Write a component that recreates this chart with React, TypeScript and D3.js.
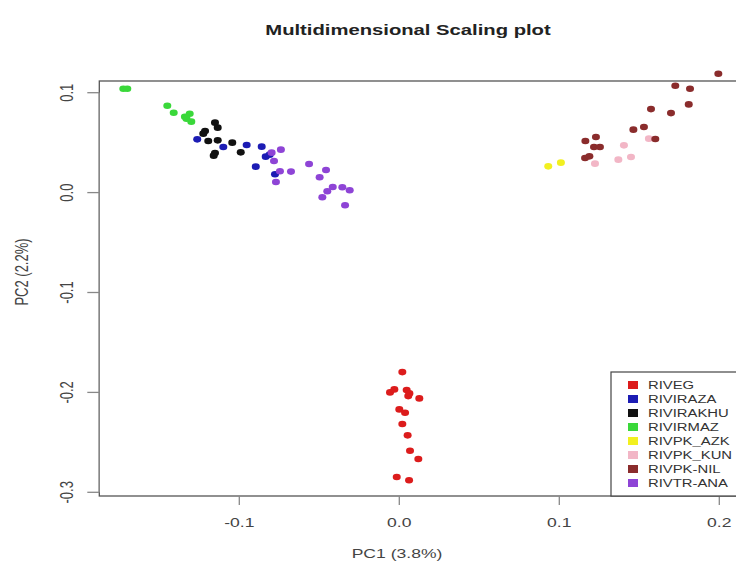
import React from "react";
import * as d3 from "d3";

const groups = ["RIVEG", "RIVIRAZA", "RIVIRAKHU", "RIVIRMAZ", "RIVPK_AZK", "RIVPK_KUN", "RIVPK-NIL", "RIVTR-ANA"];
const groupColors = ["#dc1c1c", "#1c1cb4", "#111111", "#3ad83a", "#f2f020", "#f2b6c6", "#8a2c2c", "#8e44d6"];

const xTicks = [-0.1, 0.0, 0.1, 0.2];
const yTicks = [0.1, 0.0, -0.1, -0.2, -0.3];
const xTickLabels = ["-0.1", "0.0", "0.1", "0.2"];
const yTickLabels = ["0.1", "0.0", "-0.1", "-0.2", "-0.3"];

// [PC1, PC2]
const rivEG: [number, number][] = [
  [0.0019, -0.1797], [-0.0058, -0.2], [-0.0031, -0.197], [0.0046, -0.1977], [0.0063, -0.201],
  [0.0056, -0.2037], [0.0125, -0.206], [0.0, -0.217], [0.0036, -0.2204], [0.0019, -0.2317],
  [0.0052, -0.243], [0.0067, -0.2584], [0.0119, -0.2667], [-0.0016, -0.2847], [0.0061, -0.288],
];
const rivIRAZA: [number, number][] = [
  [-0.1263, 0.0533], [-0.11, 0.0456], [-0.0954, 0.0476], [-0.086, 0.046], [-0.0835, 0.036],
  [-0.0897, 0.026], [-0.0777, 0.0183], [-0.081, 0.038],
];
const rivIRAKHU: [number, number][] = [
  [-0.1152, 0.07], [-0.1135, 0.065], [-0.1214, 0.0616], [-0.1225, 0.059], [-0.1194, 0.0516],
  [-0.1135, 0.0523], [-0.1044, 0.05], [-0.1152, 0.0396], [-0.116, 0.037], [-0.0991, 0.0403],
];
const rivIRMAZ: [number, number][] = [
  [-0.1725, 0.104], [-0.17, 0.104], [-0.145, 0.087], [-0.141, 0.08], [-0.134, 0.076],
  [-0.131, 0.079], [-0.13, 0.071], [-0.133, 0.074],
];
const rivPKAZK: [number, number][] = [
  [0.0931, 0.0263], [0.101, 0.03],
];
const rivPKKUN: [number, number][] = [
  [0.1404, 0.0473], [0.1369, 0.033], [0.1448, 0.0356], [0.1223, 0.029], [0.156, 0.054],
];
const rivPKNIL: [number, number][] = [
  [0.1994, 0.119], [0.1725, 0.107], [0.1817, 0.104], [0.1809, 0.0883], [0.1573, 0.0836],
  [0.1698, 0.0796], [0.1463, 0.063], [0.1529, 0.0656], [0.16, 0.0536], [0.1163, 0.0516],
  [0.1229, 0.0556], [0.1217, 0.0456], [0.1254, 0.0456], [0.1161, 0.0346], [0.1188, 0.0363],
];
const rivTRANA: [number, number][] = [
  [-0.0798, 0.04], [-0.074, 0.043], [-0.0783, 0.0316], [-0.0746, 0.0213], [-0.0677, 0.021],
  [-0.0771, 0.0106], [-0.0564, 0.0286], [-0.0458, 0.0226], [-0.0498, 0.0153], [-0.0416, 0.0056],
  [-0.045, 0.0013], [-0.0356, 0.0053], [-0.031, 0.0023], [-0.0481, -0.0047], [-0.0339, -0.0127],
];

const seriesData = [rivEG, rivIRAZA, rivIRAKHU, rivIRMAZ, rivPKAZK, rivPKKUN, rivPKNIL, rivTRANA];
const drawOrder = [3, 2, 1, 7, 4, 5, 6, 0];

const SX = 1.35; // horizontal stretch of the original image
const FONT = "'Liberation Sans', Arial, sans-serif";

export default function App() {
  const W = 736, H = 564;
  const x = d3.scaleLinear().domain([-0.1, 0.2]).range([239.3, 719.3]);
  const y = d3.scaleLinear().domain([-0.3, 0.1]).range([492.3, 92.7]);
  const box = { left: 99.3, top: 81, right: 740, bottom: 496 };
  const legend = { left: 611, top: 372, rowH: 14, firstY: 385 };

  const st = (tx: number, ty: number, rot = 0) =>
    `translate(${tx},${ty}) scale(${SX},1)` + (rot ? ` rotate(${rot})` : "");

  return (
    <svg width={W} height={H} style={{ position: "absolute", left: 0, top: 0, background: "#fff" }}>
      <rect x={0} y={0} width={W} height={H} fill="#fff" />
      <text transform={st(408, 35)} textAnchor="middle" fontFamily={FONT} fontWeight="bold" fontSize={15} fill="#222">
        Multidimensional Scaling plot
      </text>
      <rect x={box.left} y={box.top} width={box.right - box.left} height={box.bottom - box.top}
        fill="none" stroke="#555" strokeWidth={1.3} />
      {/* y axis */}
      <line x1={box.left} x2={box.left} y1={y(0.1)} y2={y(-0.3)} stroke="#888" strokeWidth={1.3} />
      {yTicks.map((t, i) => (
        <g key={"yt" + i}>
          <line x1={box.left - 12} x2={box.left} y1={y(t)} y2={y(t)} stroke="#888" strokeWidth={1.3} />
          <text transform={st(73, y(t), -90)} textAnchor="middle" fontFamily={FONT} fontSize={13} fill="#444">
            {yTickLabels[i]}
          </text>
        </g>
      ))}
      {/* x axis */}
      {xTicks.map((t, i) => (
        <g key={"xt" + i}>
          <line x1={x(t)} x2={x(t)} y1={box.bottom} y2={box.bottom + 9} stroke="#888" strokeWidth={1.3} />
          <text transform={st(x(t), 527)} textAnchor="middle" fontFamily={FONT} fontSize={13} fill="#444">
            {xTickLabels[i]}
          </text>
        </g>
      ))}
      <text transform={st(397, 558)} textAnchor="middle" fontFamily={FONT} fontSize={13} fill="#444">
        PC1 (3.8%)
      </text>
      <text transform={st(28, 272, -90)} textAnchor="middle" fontFamily={FONT} fontSize={13} fill="#444">
        PC2 (2.2%)
      </text>
      {/* points */}
      {drawOrder.map((gi) => (
        <g key={"s" + gi} fill={groupColors[gi]}>
          {seriesData[gi].map((p, j) => (
            <ellipse key={j} cx={x(p[0])} cy={y(p[1])} rx={4} ry={3.3} />
          ))}
        </g>
      ))}
      {/* legend */}
      <rect x={legend.left} y={legend.top} width={140} height={box.bottom - legend.top}
        fill="#fff" stroke="#444" strokeWidth={1.2} />
      {groups.map((g, i) => {
        const cy = legend.firstY + i * legend.rowH;
        return (
          <g key={"lg" + i}>
            <rect x={628} y={cy - 4} width={10} height={8} fill={groupColors[i]} />
            <text transform={st(648, cy + 4)} fontFamily={FONT} fontSize={11} fill="#333">
              {g}
            </text>
          </g>
        );
      })}
    </svg>
  );
}
